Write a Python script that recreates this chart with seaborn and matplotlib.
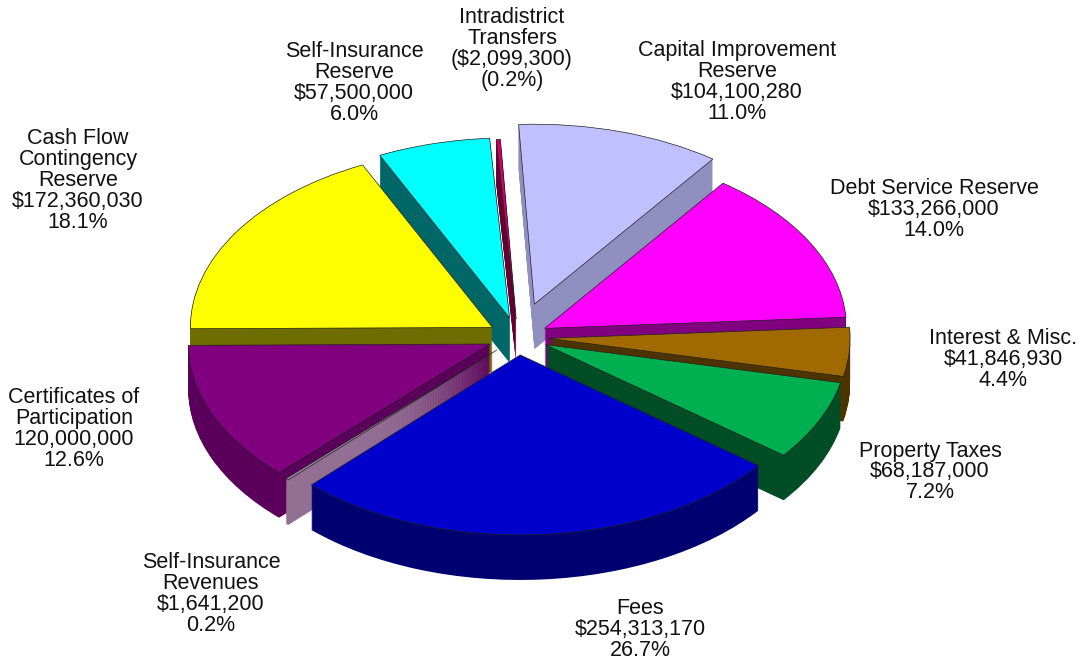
import seaborn as sns
import matplotlib.pyplot as plt

# values, clockwise from the top
names = ['Capital Improvement\nReserve', 'Debt Service Reserve', 'Interest & Misc.', 'Property Taxes', 'Fees',
         'Self-Insurance\nRevenues', 'Certificates of\nParticipation', 'Cash Flow\nContingency\nReserve',
         'Self-Insurance\nReserve', 'Intradistrict\nTransfers']
values = [104100280, 133266000, 41846930, 68187000, 254313170, 1641200, 120000000, 172360030, 57500000, 2099300]
amounts = ['$104,100,280', '$133,266,000', '$41,846,930', '$68,187,000', '$254,313,170', '$1,641,200',
           '120,000,000', '$172,360,030', '$57,500,000', '($2,099,300)']
percents = ['11.0%', '14.0%', '4.4%', '7.2%', '26.7%', '0.2%', '12.6%', '18.1%', '6.0%', '(0.2%)']

top_colors = ['#c0c0ff', '#ff00ff', '#a06a00', '#00b050', '#0000cc', '#a080a0', '#800080', '#ffff00', '#00ffff', '#cc0066']
side_colors = ['#9090c0', '#800080', '#4d3300', '#004d26', '#000070', '#946f94', '#5a005a', '#6e6e00', '#006666', '#660033']
explode = [0.19, 0.1, 0.1, 0.1, 0.1, 0.1, 0.1, 0.1, 0.11, 0.1]

# label centres in pixels of the 1083x660 picture
label_xy = [(737, 82), (934, 209), (1003, 360), (930, 472), (640, 629),
            (211, 594), (74, 429), (78, 181), (354, 83), (512, 49)]

# pie geometry in pixels
cx, cy = 518, 337
rx, ry = 302, 180
depth = 45

sns.set_theme(style='white')
plt.rcParams['font.family'] = ['Liberation Sans', 'DejaVu Sans']

fig = plt.figure(figsize=(10.83, 6.6), dpi=100)
ax = fig.add_axes([0, 0, 1, 1])

# extrude the pie by stacking copies from the bottom up
for d in range(depth, 0, -1):
    ax.pie(values, colors=side_colors, explode=explode, startangle=93, counterclock=False,
           center=(0, -d / ry), normalize=True, wedgeprops={'linewidth': 0.6, 'edgecolor': 'none'})

ax.pie(values, colors=top_colors, explode=explode, startangle=93, counterclock=False,
       center=(0, 0), normalize=True, wedgeprops={'linewidth': 0.5, 'edgecolor': '#222222'})

ax.set_aspect('auto')
ax.set_xlim(-cx / rx, (1083 - cx) / rx)
ax.set_ylim(-(660 - cy) / ry, cy / ry)
ax.axis('off')

for name, amount, pct, (px, py) in zip(names, amounts, percents, label_xy):
    ax.text((px - cx) / rx, (cy - py) / ry, f'{name}\n{amount}\n{pct}', ha='center', va='center',
            fontsize=15.5, color='#111111', linespacing=1.0)

plt.savefig('out.png', dpi=100)
plt.close()
